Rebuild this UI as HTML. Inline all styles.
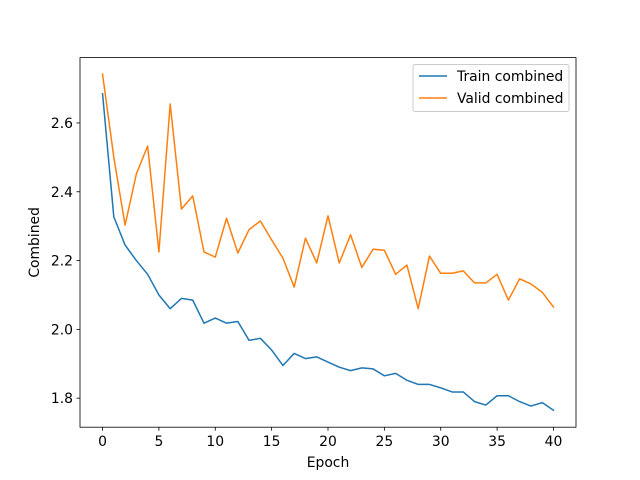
<!DOCTYPE html>
<html><head><meta charset="utf-8"><style>
body{margin:0;background:#fff;}
svg{display:block;font-family:"DejaVu Sans","Liberation Sans",sans-serif;}
</style></head><body>
<svg id="chart" width="640" height="480">
<rect x="0" y="0" width="640" height="480" fill="#fff"/>
</svg>
<script>
const epochs = [];
for (let i = 0; i <= 40; i++) epochs.push(i);
const trainCombined = [2.685,2.327,2.245,2.20,2.16,2.10,2.06,2.09,2.085,2.018,2.033,2.018,2.023,1.968,1.974,1.94,1.895,1.93,1.915,1.92,1.905,1.89,1.88,1.888,1.885,1.865,1.872,1.852,1.84,1.84,1.83,1.818,1.818,1.79,1.78,1.807,1.807,1.79,1.777,1.787,1.765];
const validCombined = [2.742,2.50,2.303,2.452,2.533,2.225,2.655,2.35,2.388,2.225,2.21,2.323,2.222,2.29,2.315,2.26,2.207,2.123,2.265,2.193,2.33,2.193,2.275,2.18,2.233,2.23,2.16,2.187,2.06,2.213,2.163,2.163,2.17,2.135,2.135,2.16,2.085,2.147,2.132,2.108,2.065];
const xTicks = [0,5,10,15,20,25,30,35,40];
const yTicks = [1.8,2.0,2.2,2.4,2.6];

const L=80,R=576,T=57.6,B=427.2;
const xMin=-2,xMax=42,yMin=1.7156,yMax=2.790;
const FS=13.9;
const sx=v=>L+(v-xMin)/(xMax-xMin)*(R-L);
const sy=v=>B-(v-yMin)/(yMax-yMin)*(B-T);
const svg=document.getElementById('chart');
const NS='http://www.w3.org/2000/svg';
function mk(tag,attrs,parent){const e=document.createElementNS(NS,tag);for(const k in attrs)e.setAttribute(k,attrs[k]);(parent||svg).appendChild(e);return e;}

function series(vals,color,name){
  const p=mk('polyline',{points:vals.map((v,i)=>sx(epochs[i])+','+sy(v)).join(' '),fill:'none',stroke:color,'stroke-width':1.5,'stroke-linejoin':'round','stroke-linecap':'square'});
  
  
}
series(trainCombined,'#1f77b4','train-combined-line');
series(validCombined,'#ff7f0e','valid-combined-line');

const frame=mk('rect',{x:L,y:T,width:R-L,height:B-T,fill:'none',stroke:'#000','stroke-width':0.8});



xTicks.forEach(t=>{
  const x=sx(t);
  mk('line',{x1:x,y1:B,x2:x,y2:B+3.5,stroke:'#000','stroke-width':0.8});
  const tx=mk('text',{x:x,y:B+19,'text-anchor':'middle','font-size':FS,fill:'#000'});
  tx.textContent=t;
  
  
});
yTicks.forEach(t=>{
  const y=sy(t);
  mk('line',{x1:L-3.5,y1:y,x2:L,y2:y,stroke:'#000','stroke-width':0.8});
  const tx=mk('text',{x:L-7,y:y+5,'text-anchor':'end','font-size':FS,fill:'#000'});
  tx.textContent=t.toFixed(1);
  
  
});
const xt=mk('text',{x:(L+R)/2,y:467,'text-anchor':'middle','font-size':FS});
xt.textContent='Epoch';


const yt=mk('text',{x:0,y:0,'text-anchor':'middle','font-size':FS,transform:'translate(39,'+((T+B)/2)+') rotate(-90)'});
yt.textContent='Combined';



const lg=mk('g',{});


mk('rect',{x:413,y:64.5,width:156,height:47,rx:2,fill:'#fff',stroke:'#ccc','stroke-width':1},lg);
[['Train combined','#1f77b4',76],['Valid combined','#ff7f0e',98]].forEach(([lab,c,y])=>{
  const g=mk('g',{},lg);
  
  
  mk('line',{x1:419,y1:y,x2:447,y2:y,stroke:c,'stroke-width':1.5},g);
  const t=mk('text',{x:457,y:y+5,'font-size':FS},g);
  t.textContent=lab;
});
</script>
</body></html>
